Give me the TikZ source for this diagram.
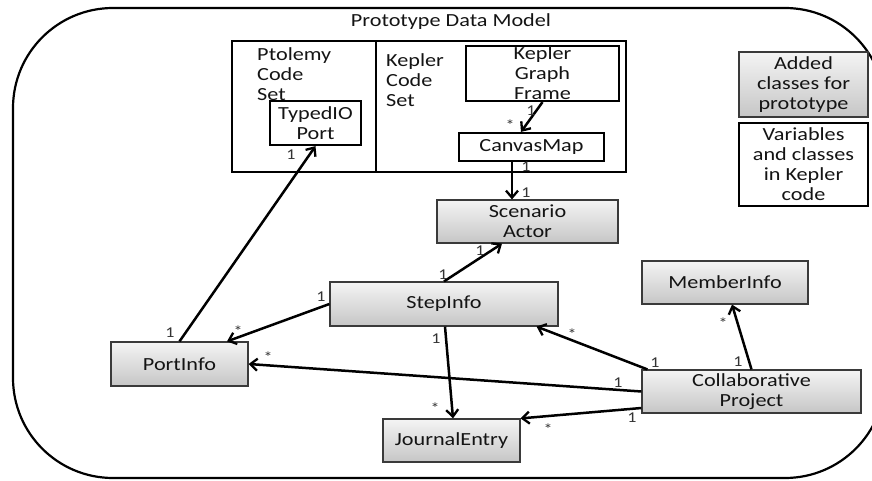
\documentclass[tikz,border=0pt]{standalone}
\usepackage{fontspec}
\setmainfont{Carlito}[FakeStretch=1.2]
\usetikzlibrary{arrows.meta,calc}
\definecolor{boxtop}{HTML}{F4F4F4}
\definecolor{boxbot}{HTML}{C6C6C6}
\definecolor{boxline}{HTML}{3A3A3A}
\tikzset{
  every node/.style={font=\fontsize{18.5}{20}\selectfont, text=black!92},
  added/.style={draw=boxline, line width=1.2pt, top color=boxtop, bottom color=boxbot,
    inner sep=0pt, align=center},
  kepl/.style={draw=black, line width=2.2pt, fill=white, inner sep=0pt, align=center},
  setbox/.style={draw=black, line width=2pt},
  assoc/.style={draw=black, line width=2.5pt, -{Straight Barb[length=7pt,width=12pt,line width=2.3pt]}},
  mult/.style={font=\fontsize{15}{15}\selectfont, inner sep=0pt, text=black!80},
}
\begin{document}
\begin{tikzpicture}[x=1pt,y=-1pt]
\useasboundingbox (0,0) rectangle (872,481);
\begin{scope}
  \clip (0,0) rectangle (872,481);
  \draw[line width=2.2pt, rounded corners=100pt] (13,8) rectangle (885,478);
\end{scope}
\node (title) at (451,22) {Prototype Data Model};
% code sets
\draw[setbox] (232,41) rectangle (376,172);
\draw[setbox] (376,41) rectangle (626,172);
\node[anchor=north west, align=left, inner sep=0pt] (ptolemy) at (257,47) {Ptolemy\\Code\\Set};
\node[anchor=north west, align=left, inner sep=0pt] (keplerset) at (386,53) {Kepler\\Code\\Set};
% kepler classes
\node[kepl, minimum width=91pt, minimum height=44pt] (typedio) at (315.5,123) {TypedIO\\Port};
\node[kepl, minimum width=153pt, minimum height=55pt] (kgf) at (542.5,73.5) {Kepler\\Graph\\Frame};
\node[kepl, minimum width=145pt, minimum height=28pt] (canvas) at (531.5,147) {CanvasMap};
% legend
\node[added, minimum width=129pt, minimum height=65pt] (legadd) at (803.5,84.5) {Added\\classes for\\prototype};
\node[kepl, minimum width=129pt, minimum height=83pt] (legkep) at (803.5,164.5) {Variables\\and classes\\in Kepler\\code};
% added classes
\node[added, minimum width=181pt, minimum height=43pt] (scen) at (527.5,221.5) {Scenario\\Actor};
\node[added, minimum width=228pt, minimum height=44pt] (step) at (444,304) {StepInfo};
\node[added, minimum width=137pt, minimum height=44pt] (port) at (179.5,364) {PortInfo};
\node[added, minimum width=219pt, minimum height=43pt] (cp) at (751.5,391.5) {Collaborative\\Project};
\node[added, minimum width=166pt, minimum height=43pt] (member) at (725,282.5) {MemberInfo};
\node[added, minimum width=137pt, minimum height=43pt] (journal) at (451.5,440.5) {JournalEntry};
% connectors
\draw[assoc] (port.north) -- (typedio.south);
\draw[assoc] (step.west) -- ([xshift=47.5pt]port.north);
\draw[assoc] (cp.west) -- (port.east);
\draw[assoc] (step.north) -- ([xshift=-25.5pt]scen.south);
\draw[assoc] ([xshift=-19.5pt]canvas.south) -- ([xshift=-15.5pt]scen.north);
\draw[assoc] (kgf.south) -- ([xshift=-10.5pt]canvas.north);
\draw[assoc] (cp.north) -- ([xshift=7pt]member.south);
\draw[assoc] ([xshift=6pt]cp.north west) -- ([xshift=-22pt]step.south east);
\draw[assoc] ([xshift=1pt]step.south) -- ([xshift=1.5pt]journal.north);
\draw[assoc] ([yshift=-16.5pt]cp.west) -- (journal.north east);
% multiplicities
\node[mult] (m1) at (170,333) {1};
\node[mult] (m2) at (291,155) {1};
\node[mult] (m3) at (321,297) {1};
\node[mult] (m4) at (238,331) {*};
\node[mult] (m5) at (268,357) {*};
\node[mult] (m6) at (618,383) {1};
\node[mult] (m7) at (443,275) {1};
\node[mult] (m8) at (480,251) {1};
\node[mult] (m9) at (526,167) {1};
\node[mult] (m10) at (526,193) {1};
\node[mult] (m11) at (531,111) {1};
\node[mult] (m12) at (510,125) {*};
\node[mult] (m13) at (738,362) {1};
\node[mult] (m14) at (723,323) {*};
\node[mult] (m15) at (572,334) {*};
\node[mult] (m16) at (655,363) {1};
\node[mult] (m17) at (436,339) {1};
\node[mult] (m18) at (435,408) {*};
\node[mult] (m19) at (632,418) {1};
\node[mult] (m20) at (548,429) {*};
\end{tikzpicture}
\end{document}
